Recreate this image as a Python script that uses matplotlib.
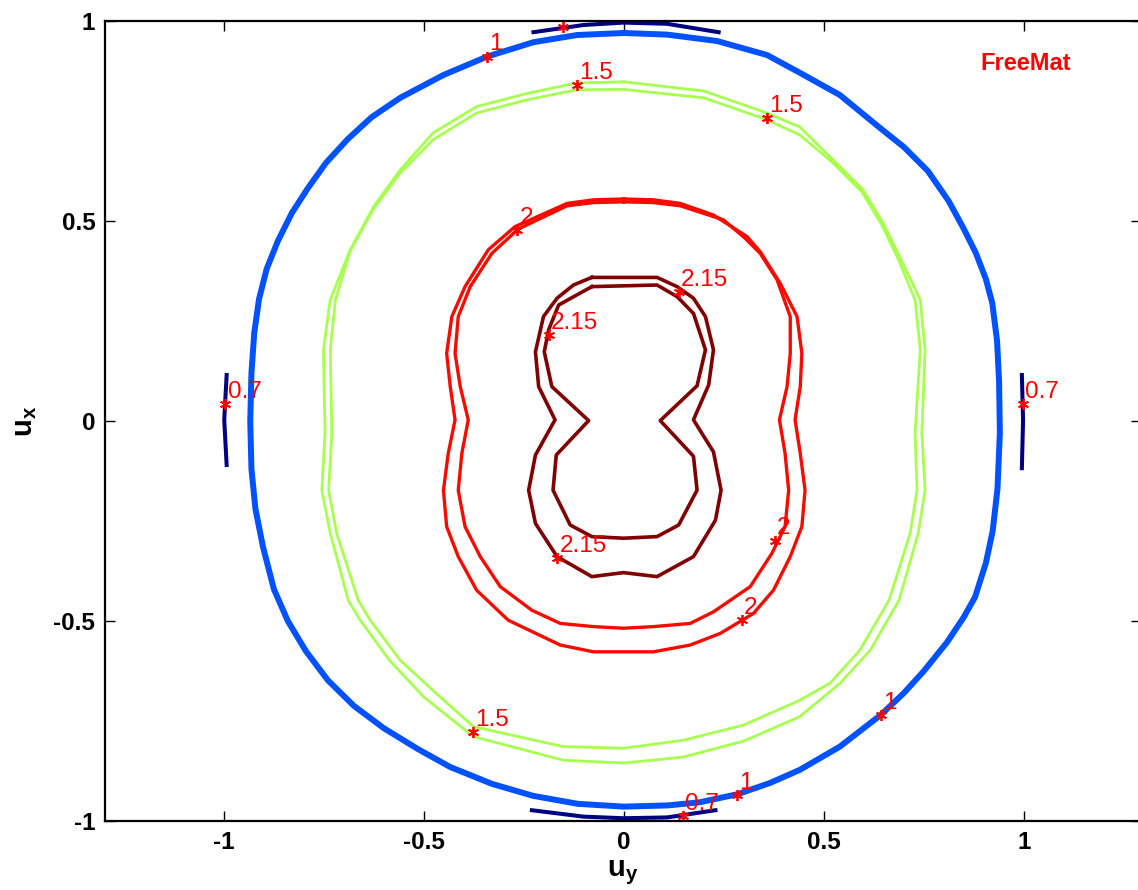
import numpy as np
import matplotlib
matplotlib.use('Agg')
import matplotlib.pyplot as plt
from matplotlib import colors

# contour levels
levels = [0.7, 1.0, 1.5, 2.0, 2.15]

# level 0.7 : four short arcs near the unit circle
c07_top_x = [-0.226, -0.101, -0.001, 0.108, 0.237]
c07_top_y = [0.972, 0.990, 0.996, 0.993, 0.972]
c07_bot_x = [-0.230, -0.101, -0.001, 0.108, 0.229]
c07_bot_y = [-0.973, -0.989, -0.993, -0.991, -0.973]
c07_lft_x = [-0.993, -0.999, -0.993]
c07_lft_y = [0.115, 0.003, -0.110]
c07_rgt_x = [0.995, 0.998, 0.995]
c07_rgt_y = [0.115, 0.003, -0.118]

# level 1
c10_x = [0.000, -0.117, -0.226, -0.342, -0.451, -0.559, -0.630, -0.690, -0.745, -0.790,
         -0.830, -0.865, -0.893, -0.912, -0.924, -0.931, -0.934, -0.931, -0.921, -0.902,
         -0.875, -0.840, -0.795, -0.740, -0.675, -0.600, -0.515, -0.434, -0.330, -0.227,
         -0.115, 0.000, 0.110, 0.190, 0.284, 0.365, 0.440, 0.540, 0.642, 0.700,
         0.750, 0.808, 0.850, 0.878, 0.905, 0.922, 0.934, 0.940, 0.938, 0.933,
         0.921, 0.905, 0.880, 0.850, 0.812, 0.760, 0.700, 0.640, 0.540, 0.441,
         0.358, 0.233, 0.108]
c10_y = [0.970, 0.965, 0.947, 0.911, 0.865, 0.808, 0.760, 0.705, 0.645, 0.582,
         0.520, 0.450, 0.380, 0.305, 0.220, 0.120, 0.000, -0.120, -0.220, -0.315,
         -0.420, -0.500, -0.575, -0.648, -0.712, -0.768, -0.820, -0.865, -0.907, -0.937,
         -0.957, -0.964, -0.961, -0.953, -0.933, -0.905, -0.872, -0.814, -0.735, -0.680,
         -0.625, -0.553, -0.490, -0.440, -0.355, -0.275, -0.170, -0.030, 0.100, 0.200,
         0.295, 0.355, 0.420, 0.480, 0.550, 0.625, 0.685, 0.733, 0.815, 0.870,
         0.915, 0.950, 0.966]

# level 1.5 (two close curves)
c15a_x = [0.000, -0.118, -0.242, -0.368, -0.477, -0.559, -0.626, -0.684, -0.734, -0.751,
          -0.747, -0.755, -0.734, -0.689, -0.659, -0.586, -0.500, -0.376, -0.151, 0.000,
          0.149, 0.300, 0.440, 0.541, 0.616, 0.688, 0.736, 0.753, 0.745, 0.753,
          0.741, 0.690, 0.648, 0.598, 0.523, 0.440, 0.358, 0.200]
c15a_y = [0.848, 0.845, 0.819, 0.786, 0.720, 0.628, 0.535, 0.428, 0.303, 0.178,
          -0.030, -0.173, -0.280, -0.448, -0.498, -0.598, -0.690, -0.789, -0.848, -0.855,
          -0.840, -0.800, -0.739, -0.655, -0.573, -0.448, -0.280, -0.173, -0.030, 0.178,
          0.303, 0.410, 0.495, 0.578, 0.653, 0.735, 0.770, 0.825]
c15b_x = [0.000, -0.118, -0.242, -0.368, -0.477, -0.559, -0.626, -0.684, -0.721, -0.734,
          -0.730, -0.738, -0.718, -0.664, -0.634, -0.559, -0.470, -0.376, -0.151, 0.000,
          0.149, 0.300, 0.440, 0.516, 0.590, 0.663, 0.716, 0.733, 0.728, 0.741,
          0.728, 0.686, 0.645, 0.595, 0.520, 0.440, 0.358, 0.200]
c15b_y = [0.829, 0.828, 0.803, 0.770, 0.703, 0.620, 0.530, 0.425, 0.303, 0.178,
          -0.030, -0.173, -0.280, -0.448, -0.498, -0.598, -0.680, -0.764, -0.814, -0.818,
          -0.798, -0.760, -0.698, -0.655, -0.573, -0.448, -0.280, -0.173, -0.030, 0.178,
          0.303, 0.405, 0.490, 0.573, 0.648, 0.715, 0.753, 0.808]

# level 2 (two curves)
c20a_x = [0.000, -0.076, -0.142, -0.272, -0.339, -0.397, -0.430, -0.443, -0.434, -0.422,
          -0.439, -0.451, -0.443, -0.414, -0.368, -0.289, -0.159, -0.076, 0.074, 0.166,
          0.241, 0.324, 0.374, 0.416, 0.445, 0.453, 0.441, 0.428, 0.441, 0.445,
          0.433, 0.391, 0.341, 0.308, 0.224, 0.141, 0.074]
c20a_y = [0.555, 0.553, 0.544, 0.486, 0.428, 0.336, 0.261, 0.169, 0.086, 0.003,
          -0.081, -0.173, -0.264, -0.339, -0.423, -0.498, -0.560, -0.577, -0.577, -0.560,
          -0.531, -0.481, -0.423, -0.339, -0.264, -0.173, -0.081, 0.003, 0.086, 0.169,
          0.261, 0.344, 0.423, 0.461, 0.515, 0.544, 0.553]
c20b_x = [0.000, -0.076, -0.142, -0.264, -0.330, -0.384, -0.414, -0.422, -0.409, -0.389,
          -0.405, -0.414, -0.397, -0.359, -0.309, -0.230, -0.159, -0.076, -0.001, 0.074,
          0.166, 0.224, 0.316, 0.370, 0.403, 0.412, 0.403, 0.389, 0.408, 0.416,
          0.416, 0.383, 0.341, 0.303, 0.249, 0.141, 0.074]
c20b_y = [0.548, 0.546, 0.538, 0.480, 0.419, 0.336, 0.261, 0.169, 0.086, 0.003,
          -0.081, -0.173, -0.264, -0.339, -0.414, -0.473, -0.506, -0.514, -0.518, -0.514,
          -0.506, -0.477, -0.414, -0.331, -0.264, -0.173, -0.081, 0.003, 0.086, 0.169,
          0.261, 0.353, 0.419, 0.457, 0.503, 0.538, 0.546]

# level 2.15 (two peanut shaped curves)
c215a_x = [-0.080, 0.083, 0.133, 0.174, 0.204, 0.224, 0.212, 0.174, 0.224, 0.243,
           0.229, 0.174, 0.083, -0.001, -0.080, -0.167, -0.221, -0.238, -0.221, -0.172,
           -0.213, -0.221, -0.201, -0.167, -0.126]
c215a_y = [0.359, 0.359, 0.336, 0.307, 0.261, 0.178, 0.090, 0.003, -0.077, -0.173,
           -0.248, -0.339, -0.389, -0.379, -0.389, -0.339, -0.256, -0.173, -0.085, 0.003,
           0.086, 0.173, 0.261, 0.307, 0.340]
c215b_x = [-0.080, 0.083, 0.133, 0.174, 0.204, 0.183, 0.091, 0.174, 0.183, 0.137,
           0.083, -0.001, -0.080, -0.134, -0.177, -0.169, -0.088, -0.180, -0.199, -0.188,
           -0.163]
c215b_y = [0.336, 0.340, 0.311, 0.269, 0.178, 0.088, 0.001, -0.088, -0.173, -0.260,
           -0.289, -0.293, -0.289, -0.260, -0.173, -0.085, 0.001, 0.086, 0.173, 0.228,
           0.290]

# contour labels
lab_x = [-0.152, 0.148, -0.996, 0.997, -0.342, 0.642, 0.284, -0.117, 0.359, -0.377,
         -0.266, 0.378, 0.295, 0.137, -0.188, -0.166]
lab_y = [0.986, -0.988, 0.043, 0.043, 0.911, -0.735, -0.935, 0.840, 0.757, -0.777,
         0.478, -0.299, -0.498, 0.323, 0.215, -0.343]
lab_txt = ['0.7', '0.7', '0.7', '0.7', '1', '1', '1', '1.5', '1.5', '1.5',
           '2', '2', '2', '2.15', '2.15', '2.15']

ticks = [-1, -0.5, 0, 0.5, 1]
tick_txt = ['-1', '-0.5', '0', '0.5', '1']

plt.rcParams['font.family'] = ['Liberation Sans', 'DejaVu Sans']
plt.rcParams['mathtext.fontset'] = 'custom'
plt.rcParams['mathtext.rm'] = 'Liberation Sans'
plt.rcParams['mathtext.it'] = 'Liberation Sans:italic'
plt.rcParams['mathtext.bf'] = 'Liberation Sans:bold'
plt.rcParams['axes.unicode_minus'] = False

cmap = plt.get_cmap('jet')
norm = colors.Normalize(min(levels), max(levels))

fig = plt.figure(figsize=(11.38, 8.9), dpi=100)
ax = fig.add_axes([0.0923, 0.0775, 0.9104, 0.8989])

curves = [
    (c07_top_x, c07_top_y, 0.7, False, 2.9),
    (c07_bot_x, c07_bot_y, 0.7, False, 2.9),
    (c07_lft_x, c07_lft_y, 0.7, False, 2.9),
    (c07_rgt_x, c07_rgt_y, 0.7, False, 2.9),
    (c10_x, c10_y, 1.0, True, 4.3),
    (c15a_x, c15a_y, 1.5, True, 2.0),
    (c15b_x, c15b_y, 1.5, True, 2.0),
    (c20a_x, c20a_y, 2.0, True, 2.4),
    (c20b_x, c20b_y, 2.0, True, 2.4),
    (c215a_x, c215a_y, 2.15, True, 2.6),
    (c215b_x, c215b_y, 2.15, True, 2.6),
]
for cx, cy, lev, closed, lw in curves:
    cx = list(cx)
    cy = list(cy)
    if closed:
        cx = cx + cx[:1]
        cy = cy + cy[:1]
    ax.plot(cx, cy, color=cmap(norm(lev)), lw=lw, solid_joinstyle='round')

ax.plot(lab_x, lab_y, ls='none', marker=(6, 2, 0), ms=8, mew=1.3, color='red')
for x, y, t in zip(lab_x, lab_y, lab_txt):
    ax.annotate(t, (x, y), xytext=(1.5, 4.5), textcoords='offset points',
                ha='left', va='baseline', color='red', fontsize=17.5, clip_on=True)

ax.text(0.891, 0.8775, 'FreeMat', color='red', fontsize=17, fontweight='bold',
        ha='left', va='baseline')

ax.set_xlim(-1.297, 1.293)
ax.set_ylim(-1, 1)
ax.set_xticks(ticks)
ax.set_xticklabels(tick_txt)
ax.set_yticks(ticks)
ax.set_yticklabels(tick_txt)
ax.tick_params(direction='in', top=True, right=True, length=7, width=1,
               labelsize=17.5, pad=7)
for lab in ax.get_xticklabels() + ax.get_yticklabels():
    lab.set_fontweight('bold')
for s in ax.spines.values():
    s.set_linewidth(1.6)

ax.set_xlabel(r'$\mathbf{u_y}$', fontsize=21)
ax.set_ylabel(r'$\mathbf{u_x}$', fontsize=21)
ax.xaxis.set_label_coords(0.5, -0.047)
ax.yaxis.set_label_coords(-0.064, 0.5)

fig.savefig('out.png', dpi=100)
